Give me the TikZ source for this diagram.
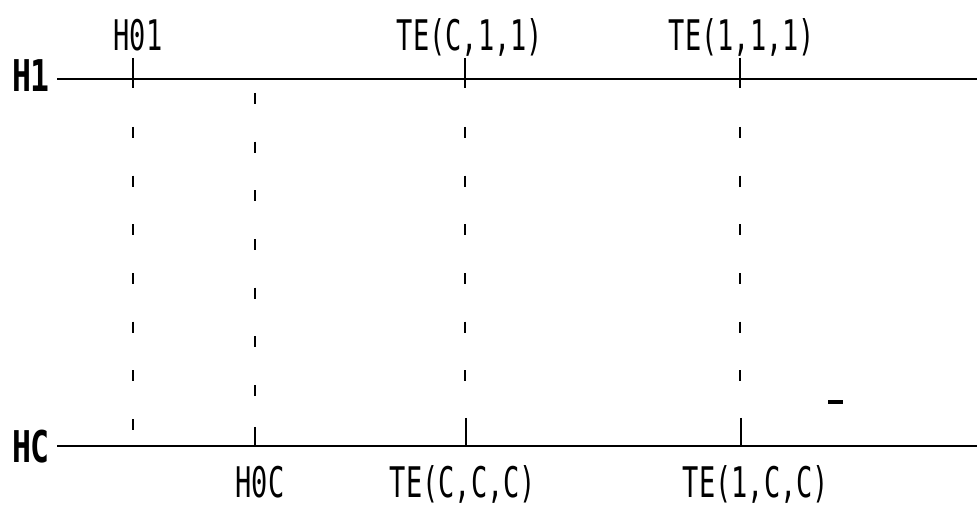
\documentclass[tikz,border=0pt]{standalone}
\usepackage{fontspec}
\newfontfamily\plotfont[FakeStretch=0.64]{DejaVu Sans Mono}
\newfontfamily\plotbold[FakeStretch=0.72]{DejaVu Sans Mono Bold}
\tikzset{
  hline/.style={line width=1.4pt},
  tickline/.style={line width=1.3pt},
  dropline/.style={line width=1.6pt,dash pattern=on 6.2pt off 21.5pt},
  lbl/.style={inner sep=0pt,anchor=base,font=\plotfont\fontsize{24}{26}\selectfont},
  axlbl/.style={inner sep=0pt,anchor=base,font=\plotbold\fontsize{24.9}{26}\selectfont}
}
\begin{document}
\begin{tikzpicture}[x=0.02cm,y=-0.02cm]
% frame of the plot, in pixels of the sheet
\useasboundingbox (0,0) rectangle (977,506);
\node[axlbl] (H1) at (31,92) {H1};
\node[axlbl] (HC) at (31,462) {HC};
\coordinate (H1end) at (977,79);
\coordinate (HCend) at (977,446);
\draw[hline,shorten <=4pt] (H1.east |- H1end) -- (H1end);
\draw[hline,shorten <=4pt] (HC.east |- HCend) -- (HCend);
% ticks on H1
\coordinate (tH01) at (133,58);
\coordinate (tTEC11) at (465,58);
\coordinate (tTE111) at (740,58);
\draw[tickline] (tH01) -- ++(0,30);
\draw[tickline] (tTEC11) -- ++(0,30);
\draw[tickline] (tTE111) -- ++(0,30);
\node[lbl] (H01) at (138,51) {H01};
\node[lbl] (TEC11) at (470,51) {TE(C,1,1)};
\node[lbl] (TE111) at (742,51) {TE(1,1,1)};
% ticks on HC
\coordinate (tH0C) at (255,427);
\coordinate (tTECCC) at (466,418);
\coordinate (tTE1CC) at (741,418);
\draw[tickline] (tH0C) -- (tH0C |- HCend);
\draw[tickline] (tTECCC) -- (tTECCC |- HCend);
\draw[tickline] (tTE1CC) -- (tTE1CC |- HCend);
\node[lbl] (H0C) at (260,497) {H0C};
\node[lbl] (TECCC) at (463,497) {TE(C,C,C)};
\node[lbl] (TE1CC) at (756,497) {TE(1,C,C)};
% dashed drops
\draw[dropline] (133,127) -- (133,432);
\draw[dropline] (255,93) -- (255,398);
\draw[dropline] (465,127) -- (465,383);
\draw[dropline] (740,127) -- (740,383);
\draw[line width=2.2pt] (828,402) -- (843,402);
\end{tikzpicture}
\end{document}
